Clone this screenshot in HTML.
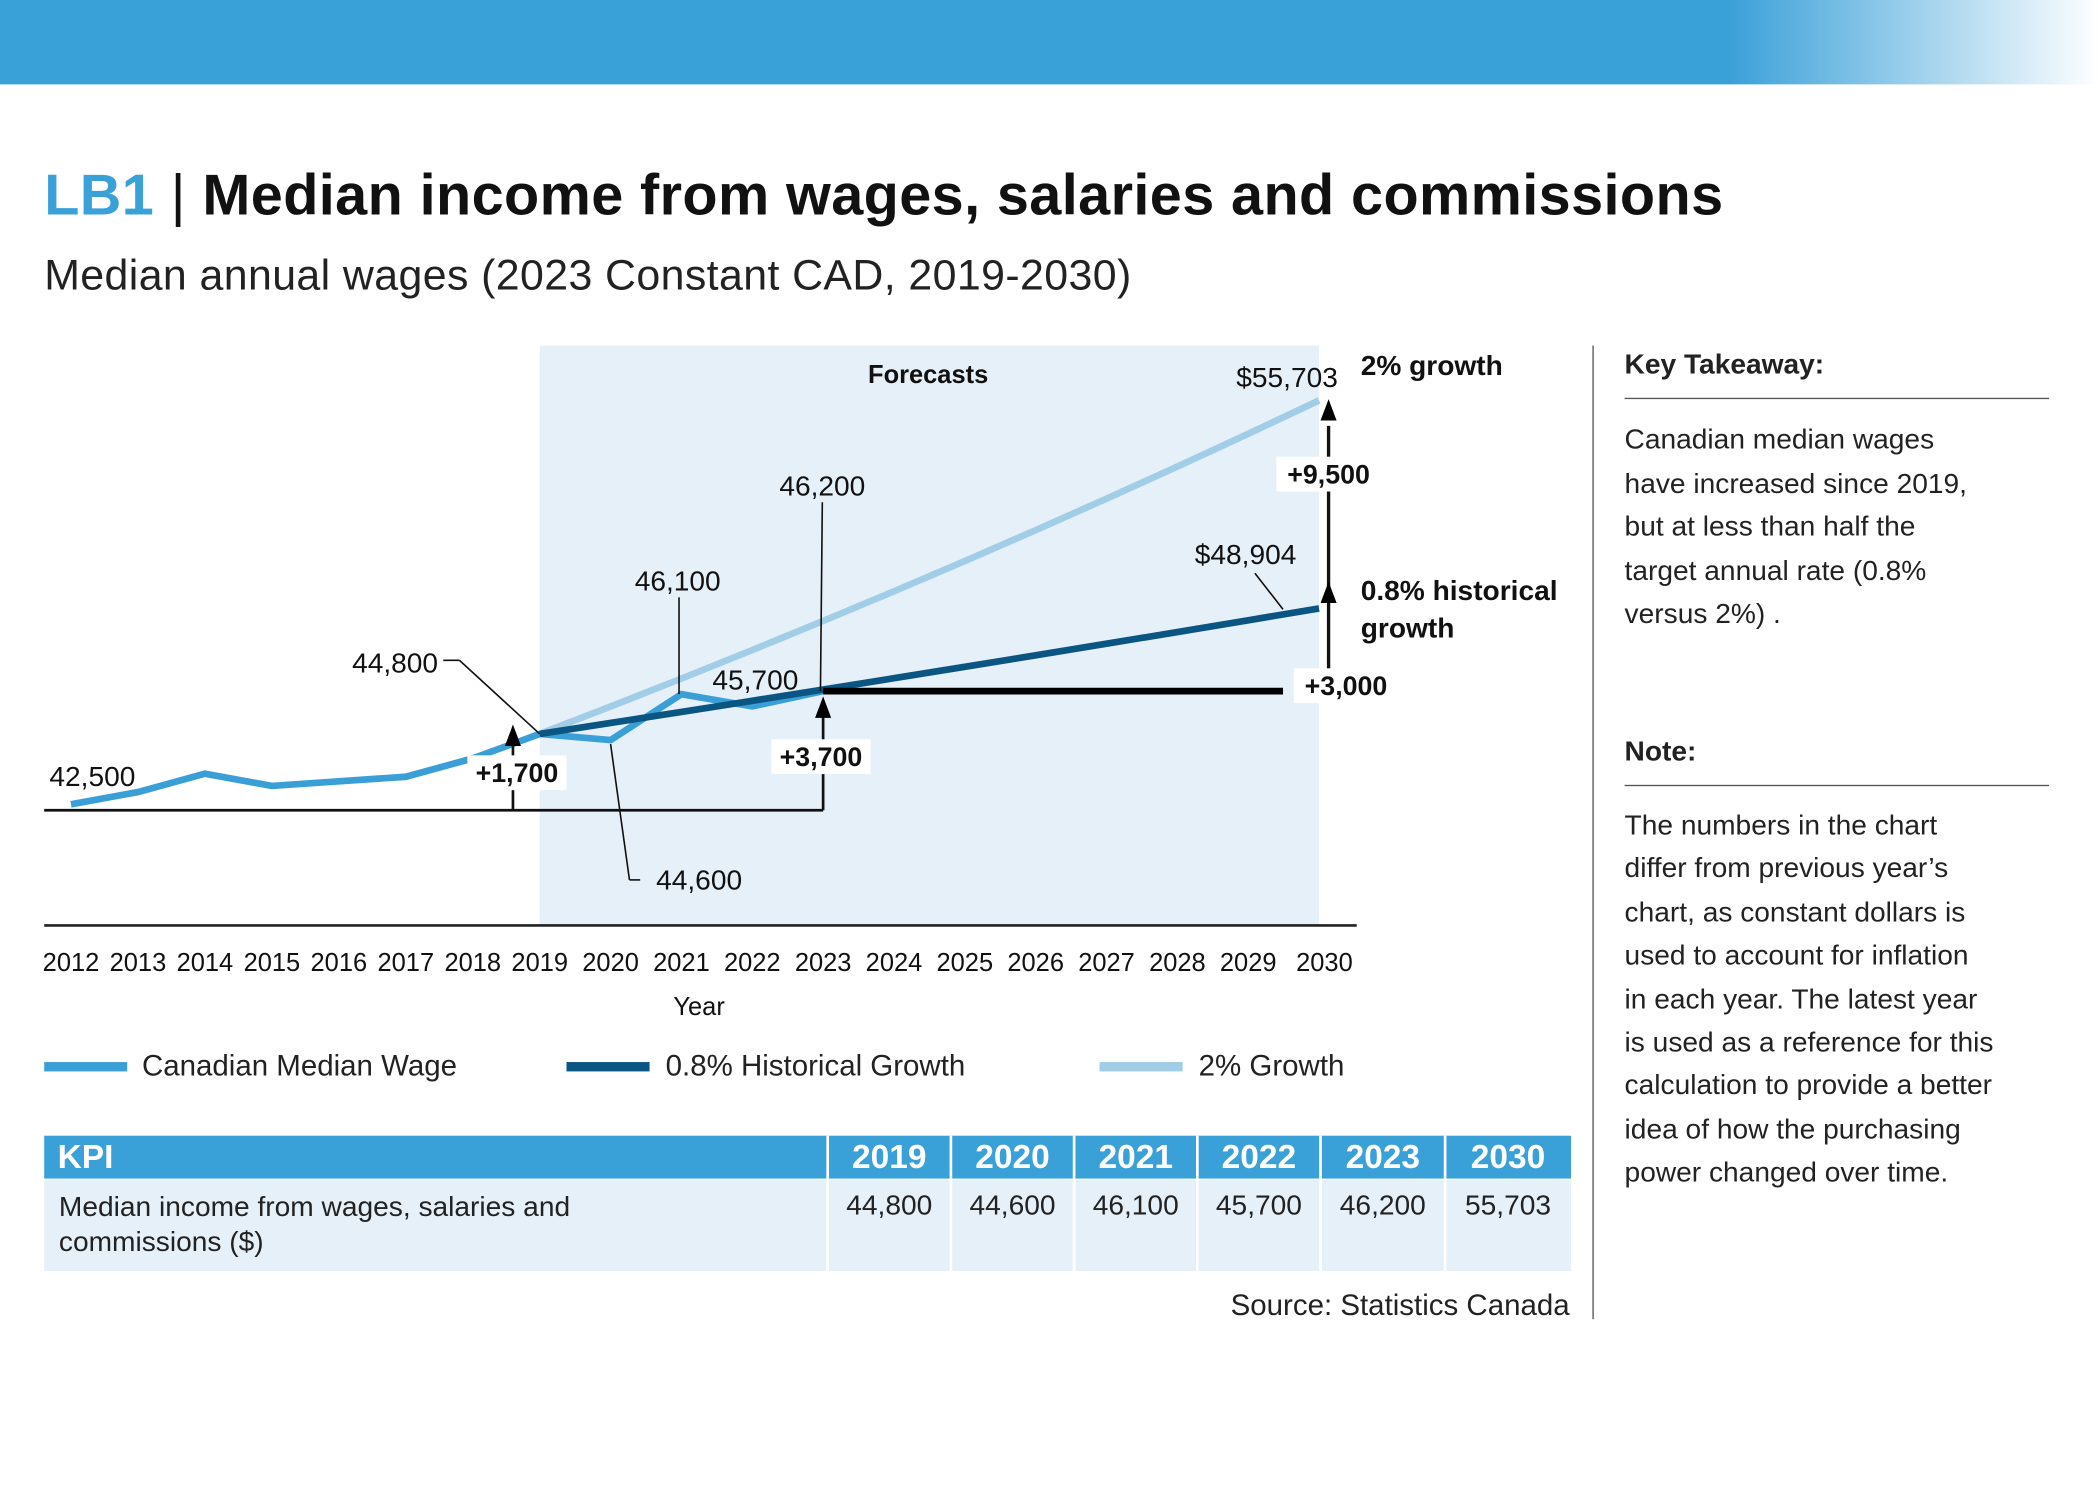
<!DOCTYPE html>
<html><head><meta charset="utf-8"><style>
html,body{margin:0;padding:0;background:#fff;width:2100px;height:1500px;overflow:hidden}
#wrap{position:absolute;left:0;top:0;width:1568px;height:1120px;transform:scale(1.33929);transform-origin:0 0;font-family:"Liberation Sans",sans-serif;color:#111}
.t{position:absolute;white-space:nowrap}
</style></head><body>
<div id="wrap">
<div style="position:absolute;left:0;top:0;width:1568px;height:63px;background:linear-gradient(90deg,#3aa0d8 0,#3aa0d8 1290px,#ffffff 1568px)"></div>
<div class="t" style="left:33px;top:122px;font-size:43px;font-weight:bold;letter-spacing:0.3px"><span style="color:#3aa0d8">LB1</span> <span style="font-weight:normal">|</span> Median income from wages, salaries and commissions</div>
<div class="t" style="left:33px;top:187px;font-size:32px;color:#222;letter-spacing:0.3px">Median annual wages (2023 Constant CAD, 2019-2030)</div>

<svg id="chart" width="1568" height="1120" style="position:absolute;left:0;top:0;font-family:'Liberation Sans',sans-serif"></svg>

<div style="position:absolute;left:1189px;top:258px;width:1px;height:727px;background:#555"></div>
<div class="t" style="left:1213px;top:261px;font-size:21px;font-weight:bold;color:#222">Key Takeaway:</div>
<div style="position:absolute;left:1213px;top:297px;width:317px;height:1px;background:#555"></div>
<div style="position:absolute;left:1213px;top:313px;width:320px;font-size:21px;line-height:32.5px;color:#222">Canadian median wages<br>have increased since 2019,<br>but at less than half the<br>target annual rate (0.8%<br>versus 2%) .</div>
<div class="t" style="left:1213px;top:550px;font-size:21px;font-weight:bold;color:#222">Note:</div>
<div style="position:absolute;left:1213px;top:586px;width:317px;height:1px;background:#555"></div>
<div style="position:absolute;left:1213px;top:601px;width:330px;font-size:21px;line-height:32.4px;color:#222">The numbers in the chart<br>differ from previous year’s<br>chart, as constant dollars is<br>used to account for inflation<br>in each year. The latest year<br>is used as a reference for this<br>calculation to provide a better<br>idea of how the purchasing<br>power changed over time.</div>

<div style="position:absolute;left:33px;top:848px;width:1140px;height:101px">
  <div style="position:absolute;left:0;top:0;width:1140px;height:32px;background:#3aa0d8"></div>
  <div style="position:absolute;left:0;top:33px;width:1140px;height:68px;background:#e6f0f9"></div>
  <div class="t" style="left:10px;top:2px;font-size:25px;font-weight:bold;color:#fff">KPI</div>
  <div class="t" style="left:11px;top:41px;font-size:21px;line-height:26px;color:#222">Median income from wages, salaries and<br>commissions ($)</div>
  <div id="cols"></div>
</div>
<div class="t" style="right:396px;top:962px;font-size:22px;color:#222">Source: Statistics Canada</div>

<div>
  <div style="position:absolute;left:33px;top:793px;width:62px;height:7px;background:#3a9fd6"></div>
  <div class="t" style="left:106px;top:783px;font-size:22px;color:#222">Canadian Median Wage</div>
  <div style="position:absolute;left:423px;top:793px;width:62px;height:7px;background:#0b5583"></div>
  <div class="t" style="left:497px;top:783px;font-size:22px;color:#222">0.8% Historical Growth</div>
  <div style="position:absolute;left:821px;top:793px;width:62px;height:7px;background:#a2cde6"></div>
  <div class="t" style="left:895px;top:783px;font-size:22px;color:#222">2% Growth</div>
</div>
</div>
<script>
const years=[2012,2013,2014,2015,2016,2017,2018,2019,2020,2021,2022,2023,2024,2025,2026,2027,2028,2029,2030];
const medianYears=[2012,2013,2014,2015,2016,2017,2018,2019,2020,2021,2022,2023];
const medianVals=[42500,42900,43500,43100,43250,43400,44000,44800,44600,46100,45700,46200];
const fcYears=[2019,2020,2021,2022,2023,2024,2025,2026,2027,2028,2029,2030];
const hist08=[44800,45158,45520,45884,46251,46621,46994,47370,47749,48131,48516,48904];
const grow2=[44800,45696,46610,47542,48493,49463,50452,51461,52490,53540,54611,55703];
const tableYears=["2019","2020","2021","2022","2023","2030"];
const tableVals=["44,800","44,600","46,100","45,700","46,200","55,703"];

const X=y=>y<=2019?53+(y-2012)*50:403+(y-2019)*52.9;
const Y=v=>548-(v-44800)*0.02284;
const svg=document.getElementById('chart');
const NS='http://www.w3.org/2000/svg';
function mk(tag,attrs,parent){const e=document.createElementNS(NS,tag);for(const k in attrs)e.setAttribute(k,attrs[k]);(parent||svg).appendChild(e);return e;}
function txt(s,x,y,size,weight,anchor,name){const t=mk('text',{x:x,y:y,'font-size':size,'font-weight':weight||'normal','text-anchor':anchor||'start',fill:'#111'});t.textContent=s;


return t;}

const band=mk('rect',{x:X(2019),y:258,width:X(2030)-X(2019),height:432,fill:'#e6f0f9'});


txt('Forecasts',693,286,19,'bold','middle','forecast-label');
const ax=mk('line',{x1:33,x2:1013,y1:691,y2:691,stroke:'#222','stroke-width':2});


years.forEach(y=>{txt(String(y),X(y)+(y===2030?4:0),725,19,'normal','middle','x-tick-label');});
txt('Year',522,758,19,'normal','middle','x-axis-title');

function pl(xs,vs,color,w,name){const p=mk('polyline',{points:xs.map((y,i)=>X(y)+','+Y(vs[i])).join(' '),fill:'none',stroke:color,'stroke-width':w,'stroke-linejoin':'miter'});

}
pl(fcYears,grow2,'#a2cde6',5,'line-2pct-growth');
pl(medianYears,medianVals,'#3a9fd6',5,'line-median-wage');
pl(fcYears,hist08,'#0b5583',5,'line-historical-growth');
const flat=mk('line',{x1:X(2023),x2:958,y1:Y(46200),y2:Y(46200),stroke:'#000','stroke-width':5});



function ln(x1,y1,x2,y2,w,name){const l=mk('line',{x1:x1,y1:y1,x2:x2,y2:y2,stroke:'#111','stroke-width':w||1.2});

}
function arrowHead(x,y,name){const a=mk('polygon',{points:`${x},${y} ${x-6},${y+16} ${x+6},${y+16}`,fill:'#000'});

}
function boxLabel(s,x,y,w,name){const r=mk('rect',{x:x-w/2,y:y-17,width:w,height:26,fill:'#fff'});


txt(s,x,y+3,20,'bold','middle',name);}

ln(33,605,X(2023),605,2,'baseline');
ln(383,605,383,555,2,'arrow-1700');
boxLabel('+1,700',386,581,74,'delta-1700');
arrowHead(383,541,'arrowhead-1700');
ln(X(2023),605,X(2023),535,2,'arrow-3700');
boxLabel('+3,700',613,569,74,'delta-3700');
arrowHead(X(2023),520,'arrowhead-3700');
ln(992,Y(46200),992,318,2.5,'arrow-2030');arrowHead(992,Y(48904)-20,'arrowhead-historical');arrowHead(992,298,'arrowhead-2pct');
boxLabel('+9,500',992,358,78,'delta-9500');
boxLabel('+3,000',1005,516,78,'delta-3000');

txt('2% growth',1016,280,21,'bold','start','label-2pct-growth');
txt('0.8% historical',1016,448,21,'bold','start','label-historical-growth');
txt('growth',1016,476,21,'bold','start','label-historical-growth-2');
txt('$55,703',961,289,21,'normal','middle','value-2030-2pct');
txt('$48,904',930,421,21,'normal','middle','value-2030-historical');
ln(937,428,958,455,1.2,'leader-48904');
txt('46,200',614,370,21,'normal','middle','value-2023');
ln(614,375,X(2023)-2,Y(46200),1.2,'leader-46200');
txt('46,100',506,441,21,'normal','middle','value-2021');
ln(507,446,507,Y(46100),1.2,'leader-46100');
txt('45,700',564,515,21,'normal','middle','value-2022');
txt('44,800',295,502,21,'normal','middle','value-2019');
ln(331,493,343,493,1.2,'leader-44800a');ln(343,493,X(2019),Y(44800),1.2,'leader-44800b');
txt('44,600',522,664,21,'normal','middle','value-2020');
ln(X(2020),Y(44600)+3,470,657,1.2,'leader-44600a');ln(470,657,478,657,1.2,'leader-44600b');
txt('42,500',69,587,21,'normal','middle','value-2012');

const colX=[586,678,770,862,954,1047];const colW=[90,90,90,90,91,92];
const cols=document.getElementById('cols');
tableYears.forEach((y,i)=>{
  const h=document.createElement('div');h.className='t';h.style.cssText=`left:${colX[i]}px;top:2px;width:${colW[i]}px;text-align:center;font-size:25px;font-weight:bold;color:#fff`;h.textContent=y;
  
  
  cols.appendChild(h);
  const v=document.createElement('div');v.className='t';v.style.cssText=`left:${colX[i]}px;top:41px;width:${colW[i]}px;text-align:center;font-size:21px;color:#222`;v.textContent=tableVals[i];
  
  
  cols.appendChild(v);
  const s=document.createElement('div');s.style.cssText=`position:absolute;left:${colX[i]-2}px;top:0;width:2px;height:101px;background:#fff`;
  
  
  cols.appendChild(s);
});
</script>
</body></html>
